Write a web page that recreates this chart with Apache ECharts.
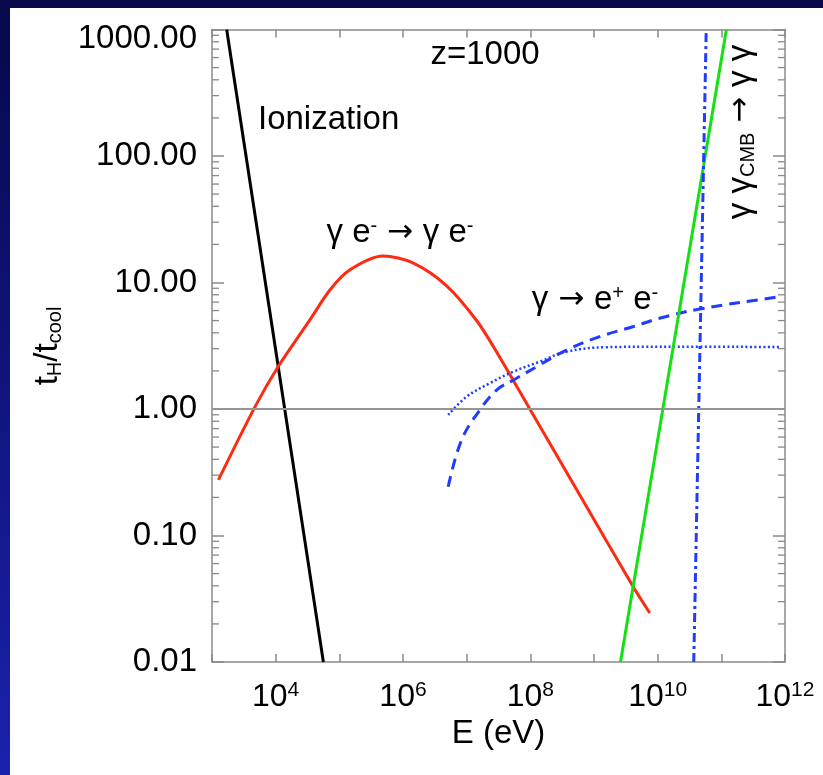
<!DOCTYPE html>
<html>
<head>
<meta charset="utf-8">
<script src="https://cdn.jsdelivr.net/npm/echarts@6/dist/echarts.min.js"></script>
<style>html,body{margin:0;padding:0;background:#fff;}#c{width:823px;height:775px;}</style>
</head>
<body>
<div id="c"></div>
<script>
// ---- data (E in eV, t_H/t_cool) ----
const E_ion = [1.70e3, 5.62e4];
const T_ion = [1000, 0.01];

const E_compton = [1.26e3, 4.73e3, 1.09e4, 3.45e4, 7.11e4, 1.47e5, 4.84e5, 1.43e6, 4.89e6, 1.45e7, 3.20e7, 9.82e7, 5.98e8, 4.06e9, 7.52e9];
const T_compton = [0.275, 1.04, 2.16, 5.06, 8.73, 12.6, 16.2, 14.3, 9.38, 4.96, 2.64, 1.00, 0.209, 0.0399, 0.0244];

const E_pair = [5.13e6, 8.32e6, 1.61e7, 2.95e7, 5.37e7, 1.26e8, 3.70e8, 1.23e9, 4.07e9, 1.07e10, 4.57e10, 7.41e11, 8.32e11];
const T_pair = [0.243, 0.569, 0.982, 1.41, 1.69, 2.16, 2.92, 3.73, 4.47, 5.21, 6.17, 7.67, 7.76];

const E_pairDot = [5.13e6, 1.00e7, 2.31e7, 5.37e7, 1.41e8, 3.70e8, 1.57e9, 1.07e10, 8.32e11];
const T_pairDot = [0.898, 1.25, 1.60, 1.97, 2.37, 2.84, 3.08, 3.11, 3.09];

const E_green = [2.61e9, 1.20e11];
const T_green = [0.01, 1000];

const E_ggcmb = [3.69e10, 5.79e10];
const T_ggcmb = [0.01, 1000];

const X_RANGE = [1e3, 1e12];
const Y_RANGE = [0.01, 1000];
const Y_LEVEL = 1;

const FONT = "'Liberation Sans', Arial, Helvetica, sans-serif";
const AFONT = "'DejaVu Sans', sans-serif";

function zip(a, b) { return a.map((v, i) => [v, b[i]]); }

// minor tick values for the log y axis (2..9 in each decade)
const minorVals = [];
for (let d = Math.log10(Y_RANGE[0]); d < Math.log10(Y_RANGE[1]); d++) {
  for (let m = 2; m <= 9; m++) minorVals.push([X_RANGE[0], m * Math.pow(10, d)]);
}

const chart = echarts.init(document.getElementById('c'), null, {renderer: 'canvas'});

const axisLineStyle = {color: '#8a8a8a', width: 1.5};
const richLabel = {
  m: {font: '33px ' + FONT, fill: '#000', lineHeight: 34},
  a: {font: '31px ' + AFONT, fill: '#000', lineHeight: 34},
  p: {font: '20px ' + FONT, fill: '#000', lineHeight: 22, verticalAlign: 'top'},
  s: {font: '20px ' + FONT, fill: '#000', lineHeight: 20, verticalAlign: 'bottom'}
};

const option = {
  animation: false,
  backgroundColor: {
    type: 'linear', x: 0, y: 0, x2: 0, y2: 1,
    colorStops: [{offset: 0, color: '#07074a'}, {offset: 1, color: '#1a22ad'}]
  },
  graphic: [
    {type: 'rect', z: -100, silent: true, shape: {x: 10, y: 8, width: 823, height: 775}, style: {fill: '#ffffff'}},
    {type: 'text', x: 485, y: 55, style: {text: 'z=1000', font: '33px ' + FONT, fill: '#000', align: 'center', verticalAlign: 'middle'}},
    {type: 'text', x: 258, y: 120, style: {text: 'Ionization', font: '33px ' + FONT, fill: '#000', align: 'left', verticalAlign: 'middle'}},
    {type: 'text', x: 400, y: 233, style: {
      text: '{m|γ e}{p|-}{a| → }{m|γ e}{p|-}', align: 'center', verticalAlign: 'middle', rich: richLabel
    }},
    {type: 'text', x: 595, y: 300, style: {
      text: '{m|γ}{a| → }{m|e}{p|+}{m| e}{p|-}', align: 'center', verticalAlign: 'middle', rich: richLabel
    }},
    {type: 'text', x: 741, y: 132, rotation: Math.PI / 2, style: {
      text: '{m|γ γ}{s|CMB}{a| → }{m|γ γ}', align: 'center', verticalAlign: 'middle', rich: richLabel
    }},
    {type: 'text', x: 48, y: 346, rotation: Math.PI / 2, style: {
      text: '{m|t}{s|H}{m|/t}{s|cool}', align: 'center', verticalAlign: 'middle', rich: richLabel
    }}
  ],
  grid: {left: 212, right: 38, top: 29.5, bottom: 113, containLabel: false},
  xAxis: [
    {
      type: 'log', logBase: 10, min: X_RANGE[0], max: X_RANGE[1], interval: 1, position: 'bottom',
      axisLine: {show: true, lineStyle: axisLineStyle},
      axisTick: {show: true, inside: true, length: 8, lineStyle: {color: '#8a8a8a', width: 1.5}},
      splitLine: {show: false},
      axisLabel: {
        margin: 18,
        formatter: function (v) {
          const e = Math.round(Math.log10(v));
          return (e % 2 === 0) ? '{b|10}{s|' + e + '}' : '';
        },
        rich: {
          b: {fontFamily: FONT, fontSize: 32, color: '#000', lineHeight: 34},
          s: {fontFamily: FONT, fontSize: 21, color: '#000', lineHeight: 26, verticalAlign: 'top'}
        }
      },
      name: 'E (eV)', nameLocation: 'middle', nameGap: 54,
      nameTextStyle: {fontFamily: FONT, fontSize: 33, color: '#000'}
    },
    {
      type: 'log', logBase: 10, min: X_RANGE[0], max: X_RANGE[1], interval: 1, position: 'top',
      axisLine: {show: true, lineStyle: axisLineStyle},
      axisTick: {show: true, inside: true, length: 8, lineStyle: {color: '#8a8a8a', width: 1.5}},
      axisLabel: {show: false}, splitLine: {show: false}
    }
  ],
  yAxis: [
    {
      type: 'log', logBase: 10, min: Y_RANGE[0], max: Y_RANGE[1], interval: 1, position: 'left',
      axisLine: {show: true, lineStyle: axisLineStyle},
      axisTick: {show: true, inside: true, length: 12, lineStyle: {color: '#8a8a8a', width: 1.5}},
      splitLine: {show: false},
      axisLabel: {
        margin: 15, fontFamily: FONT, fontSize: 33, color: '#000',
        formatter: function (v) {
          const s = Number(v).toFixed(2);
          return (v >= Y_RANGE[1] * 0.999) ? '{t|' + s + '}' : s;
        },
        rich: {t: {fontFamily: FONT, fontSize: 33, color: '#000', padding: [19, 0, 0, 0]}}
      }
    },
    {
      type: 'log', logBase: 10, min: Y_RANGE[0], max: Y_RANGE[1], interval: 1, position: 'right',
      axisLine: {show: true, lineStyle: axisLineStyle},
      axisTick: {show: true, inside: true, length: 12, lineStyle: {color: '#8a8a8a', width: 1.5}},
      axisLabel: {show: false}, splitLine: {show: false}
    }
  ],
  series: [
    {
      type: 'custom', name: 'minorTicks', silent: true, xAxisIndex: 0, yAxisIndex: 0,
      data: minorVals, encode: {x: 0, y: 1}, clip: false, z: 1,
      renderItem: function (params, api) {
        const v = api.value(1);
        const pL = api.coord([X_RANGE[0], v]);
        const pR = api.coord([X_RANGE[1], v]);
        const st = {stroke: '#8a8a8a', lineWidth: 1.3};
        return {type: 'group', children: [
          {type: 'line', shape: {x1: pL[0], y1: pL[1], x2: pL[0] + 7, y2: pL[1]}, style: st},
          {type: 'line', shape: {x1: pR[0] - 7, y1: pR[1], x2: pR[0], y2: pR[1]}, style: st}
        ]};
      }
    },
    {
      type: 'line', name: 'Ionization', data: zip(E_ion, T_ion), showSymbol: false, clip: true,
      lineStyle: {color: '#000000', width: 3}, z: 3,
      markLine: {silent: true, symbol: 'none', label: {show: false},
        lineStyle: {color: '#959595', width: 2, type: 'solid'}, data: [{yAxis: Y_LEVEL}]}
    },
    {
      type: 'line', name: 'Compton', data: zip(E_compton, T_compton), showSymbol: false, clip: true,
      smooth: 0.3, lineStyle: {color: '#ff2a12', width: 3}, z: 3
    },
    {
      type: 'line', name: 'pair', data: zip(E_pair, T_pair), showSymbol: false, clip: true,
      smooth: 0.4, lineStyle: {color: '#1f3cff', width: 3, type: [11, 7]}, z: 3
    },
    {
      type: 'line', name: 'pairDot', data: zip(E_pairDot, T_pairDot), showSymbol: false, clip: true,
      smooth: 0.4, lineStyle: {color: '#1f3cff', width: 2.5, type: [2, 2.5]}, z: 3
    },
    {
      type: 'line', name: 'green', data: zip(E_green, T_green), showSymbol: false, clip: true,
      lineStyle: {color: '#14e014', width: 3}, z: 3
    },
    {
      type: 'line', name: 'ggCMB', data: zip(E_ggcmb, T_ggcmb), showSymbol: false, clip: true,
      lineStyle: {color: '#1f3cff', width: 3, type: [9, 4, 3, 4]}, z: 3
    }
  ]
};
chart.setOption(option);
</script>
</body>
</html>
